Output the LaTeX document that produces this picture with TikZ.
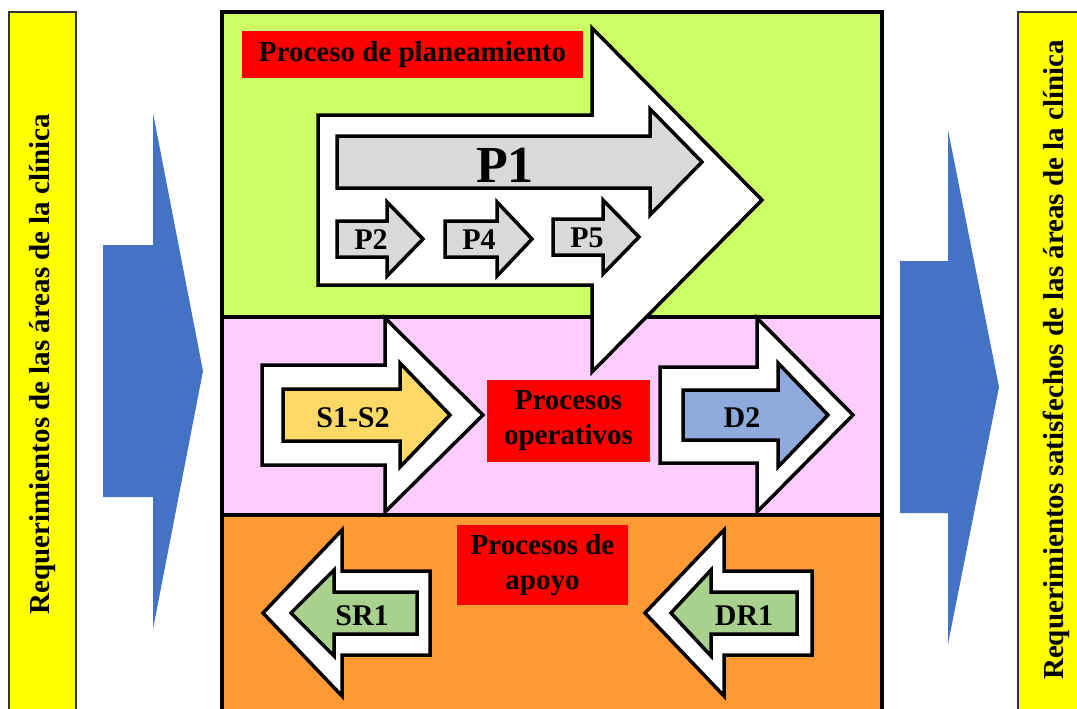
\documentclass[tikz,border=0pt]{standalone}
\usepackage{fontspec}
\setmainfont{Liberation Serif}
\definecolor{bandgreen}{HTML}{CCFF66}
\definecolor{bandpink}{HTML}{FFCCFF}
\definecolor{bandorange}{HTML}{FF9933}
\definecolor{tagred}{HTML}{FF0000}
\definecolor{bar}{HTML}{FFFF00}
\definecolor{flowblue}{HTML}{4472C4}
\definecolor{pgray}{HTML}{D9D9D9}
\definecolor{sgold}{HTML}{FFD966}
\definecolor{dblue}{HTML}{8EA9DB}
\definecolor{rgreen}{HTML}{A9D18E}
% block arrow: style, tail x, head base x, tip x, centre y, shaft half height, head half height
\newcommand\blockarrow[7]{%
  \path[#1] ({#2},{#5-#6}) -- ({#3},{#5-#6}) -- ({#3},{#5-#7}) -- ({#4},{#5})
    -- ({#3},{#5+#7}) -- ({#3},{#5+#6}) -- ({#2},{#5+#6}) -- cycle;}
\begin{document}
\begin{tikzpicture}[x=1pt,y=-1pt,
  outl/.style={draw=black, line width=3.5pt, line join=miter},
  hollow/.style={outl, fill=white},
  redtag/.style={fill=tagred, inner sep=0pt, align=center,
    font=\bfseries\fontsize{29}{35}\selectfont},
  lab/.style={inner sep=0pt, font=\bfseries\fontsize{30}{34}\selectfont},
  sidebar/.style={fill=bar, draw=black!80, line width=1.2pt},
  sidetext/.style={rotate=90, inner sep=0pt, font=\bfseries\fontsize{29}{33}\selectfont}]
\useasboundingbox (0,0) rectangle (1077,709);
\clip (0,0) rectangle (1077,709);
\fill[white] (0,0) rectangle (1077,709);

% side bars
\path[sidebar] (9,12) rectangle (76,740);
\path[sidebar] (1018,12) rectangle (1100,740);
\node[sidetext] (reqin) at (43,364) {Requerimientos de las áreas de la clínica};
\node[sidetext] (reqout) at (1056,360) {Requerimientos satisfechos de las áreas de la clínica};

% input and output flow arrows
\blockarrow{fill=flowblue}{103}{153}{203}{371}{126}{258}
\blockarrow{fill=flowblue}{900}{948}{999}{387}{126}{257}

% process bands
\fill[bandgreen] (222,12) rectangle (882,317);
\fill[bandpink] (222,317) rectangle (882,515);
\fill[bandorange] (222,515) rectangle (882,740);
\draw[line width=3.5pt] (222,317) -- (882,317) (222,515) -- (882,515);
\draw[line width=4pt] (222,12) rectangle (882,760);

% planning
\blockarrow{hollow}{318}{592}{762}{200}{85}{172}
\blockarrow{outl, fill=pgray}{337}{650}{702}{162}{26}{53}
\blockarrow{outl, fill=pgray}{337}{387}{423}{239}{18}{37}
\blockarrow{outl, fill=pgray}{445}{497}{532}{239}{18}{37}
\blockarrow{outl, fill=pgray}{553}{603}{639}{237}{18}{37}
\node[redtag, minimum width=341pt, minimum height=47pt] (plan) at (412.5,54.5) {Proceso de planeamiento};
\node[lab, font=\bfseries\fontsize{52}{56}\selectfont] (p1) at (505,165) {P1};
\node[lab] (p2) at (371,240) {P2};
\node[lab] (p4) at (479,240) {P4};
\node[lab] (p5) at (587,238) {P5};

% operations
\blockarrow{hollow}{262}{385}{483}{415}{50}{97}
\blockarrow{outl, fill=sgold}{283}{400}{450}{415}{26}{52}
\blockarrow{hollow}{660}{757}{853}{415}{48}{97}
\blockarrow{outl, fill=dblue}{683}{778}{828}{415}{25}{52}
\node[redtag, minimum width=163pt, minimum height=82pt] (oper) at (568.5,421) {Procesos\\operativos};
\node[lab] (s12) at (353,418) {S1-S2};
\node[lab] (d2) at (742,418) {D2};

% support
\blockarrow{hollow}{430}{342}{263}{613}{42}{83}
\blockarrow{outl, fill=rgreen}{417}{334}{291}{613}{21}{43}
\blockarrow{hollow}{812}{724}{645}{613}{42}{83}
\blockarrow{outl, fill=rgreen}{797}{711}{671}{613}{21}{43}
\node[redtag, minimum width=171pt, minimum height=80pt] (apoyo) at (542.5,565) {Procesos de\\apoyo};
\node[lab] (sr1) at (362,616) {SR1};
\node[lab] (dr1) at (744,616) {DR1};
\end{tikzpicture}
\end{document}
